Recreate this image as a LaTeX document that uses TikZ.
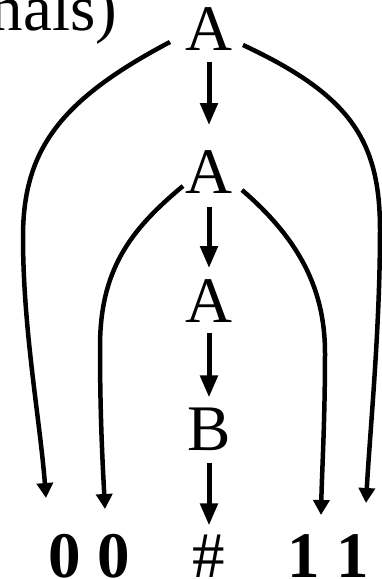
\documentclass[tikz,border=0pt]{standalone}
\usepackage{fontspec}
\setmainfont{Liberation Serif}
\usetikzlibrary{arrows.meta}
\begin{document}
\begin{tikzpicture}[x=1pt,y=-1pt,
  lbl/.style={inner sep=0pt, outer sep=0pt, anchor=base, font=\fontsize{65}{70}\selectfont},
  bold/.style={lbl, font=\fontsize{65}{70}\selectfont\bfseries},
  arr/.style={line width=5pt, -{Triangle[length=22pt,width=17pt]}},
  carr/.style={line width=4.5pt, -{Triangle[length=15pt,width=16pt]}}]
\useasboundingbox (0,0) rectangle (381,579);
\node[lbl, anchor=base east] (hdr) at (117,30) {nals)};
\node[lbl] (a1) at (209,50) {A};
\node[lbl] (a2) at (209,193) {A};
\node[lbl] (a3) at (209,322) {A};
\node[lbl] (b) at (209,450) {B};
\node[lbl] (hash) at (209,577) {\#};
\node[bold] (zeros) at (89,577) {0 0};
\node[bold] (ones) at (328,577) {1 1};
\coordinate (t1) at (46,498);
\coordinate (t2) at (105,509);
\coordinate (t3) at (321,515);
\coordinate (t4) at (366,503);
% straight arrows
\draw[arr, shorten <=12pt, shorten >=25pt] (a1) -- (a2);
\draw[arr, shorten <=14pt, shorten >=11pt] (a2) -- (a3);
\draw[arr, shorten <=11pt, shorten >=10pt] (a3) -- (b);
\draw[arr, shorten <=13pt, shorten >=9pt] (b) -- (hash);
% curved arrows
\draw[carr] ([shift={(-39,-8)}]a1.base) .. controls (60,100) and (23,150) .. (23,237)
  .. controls (23,330) and (40,420) .. (t1);
\draw[carr] ([shift={(34,-5)}]a1.base) .. controls (350,95) and (380,140) .. (380,230)
  .. controls (380,330) and (370,430) .. (t4);
\draw[carr] ([shift={(-26,-7)}]a2.base) .. controls (130,230) and (100,270) .. (100,347)
  .. controls (100,420) and (103,470) .. (t2);
\draw[carr] ([shift={(33,-3)}]a2.base) .. controls (300,240) and (325,290) .. (325,353)
  .. controls (325,420) and (322,470) .. (t3);
\end{tikzpicture}
\end{document}
